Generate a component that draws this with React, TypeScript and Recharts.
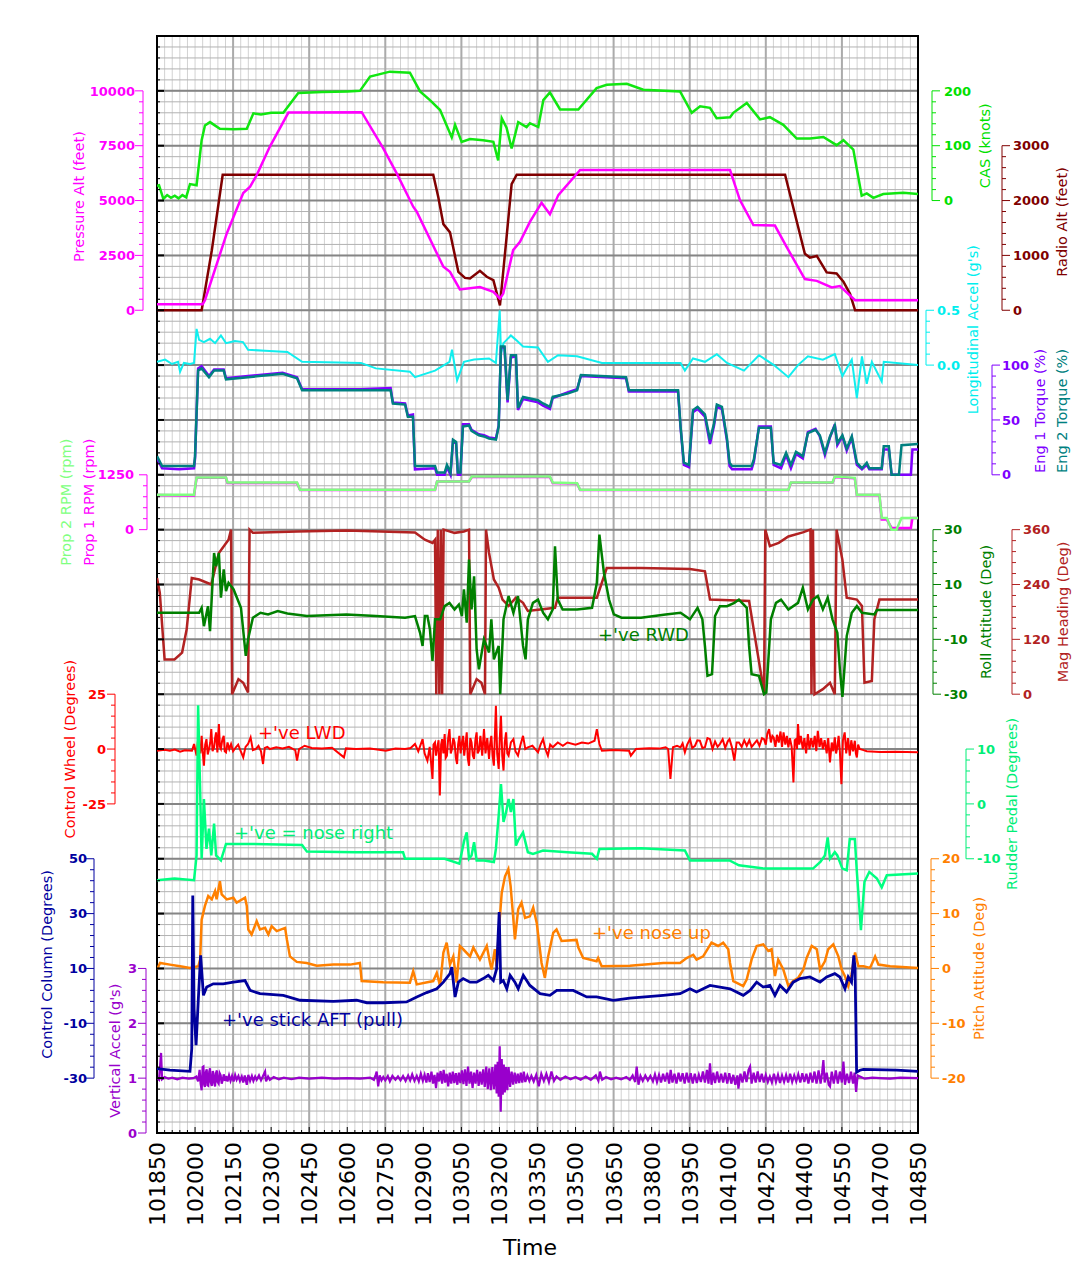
import React from 'react';
import { ComposedChart, Line, XAxis, YAxis, CartesianGrid, ReferenceArea } from 'recharts';

const W = 1081;
const H = 1268;
const PLOT_LEFT = 157;
const PLOT_RIGHT = 918;
const PLOT_TOP = 36;
const PLOT_BOTTOM = 1133;
const ROWS = 20;
const ROW_PX = (PLOT_BOTTOM - PLOT_TOP) / ROWS;
const X_AXIS_H = 100;
const FONT = '"DejaVu Sans", Verdana, sans-serif';

const T_MIN = 101850;
const T_MAX = 104850;
const timeTicks = [
  101850, 102000, 102150, 102300, 102450, 102600, 102750, 102900, 103050, 103200, 103350,
  103500, 103650, 103800, 103950, 104100, 104250, 104400, 104550, 104700, 104850,
];
// grid helpers (layout only)
const minorTimeTicks = Array.from({ length: 101 }, (_, i) => T_MIN + i * 30);
const gridMinorRows = Array.from({ length: 101 }, (_, i) => i);
const gridMajorRows = Array.from({ length: 21 }, (_, i) => i);

// axis tick labels
const pressureAltTicks = [0, 2500, 5000, 7500, 10000];
const casTicks = [0, 100, 200];
const radioAltTicks = [0, 1000, 2000, 3000];
const lonAccTicks = [0, 0.5];
const torqueTicks = [0, 50, 100];
const propRpmTicks = [0, 1250];
const rollTicks = [-30, -10, 10, 30];
const headingTicks = [0, 120, 240, 360];
const wheelTicks = [-25, 0, 25];
const rudderTicks = [-10, 0, 10];
const columnTicks = [-30, -10, 10, 30, 50];
const pitchTicks = [-20, -10, 0, 10, 20];
const vertAccTicks = [0, 1, 2, 3];

// series: [time, value]
const pressureAlt: [number, number][] = [
  [101850, 270], [102030, 270], [102039, 460], [102125, 3500], [102190, 5340], [102217, 5630],
  [102243, 6160], [102295, 7460], [102368, 9010], [102657, 9030], [102742, 7380], [102795, 6240],
  [102860, 4720], [102874, 4490], [102979, 1980], [103005, 1750], [103044, 950], [103123, 1060],
  [103176, 840], [103202, 530], [103215, 760], [103254, 2740], [103281, 3120], [103320, 4030],
  [103366, 4900], [103399, 4380], [103432, 5250], [103518, 6390], [104109, 6390], [104148, 5020],
  [104201, 3880], [104286, 3860], [104332, 2890], [104404, 1420], [104451, 1340], [104510, 1040],
  [104542, 1100], [104602, 460], [104850, 460],
];

const radioAlt: [number, number][] = [
  [101850, 0], [102026, 0], [102066, 1090], [102109, 2470], [102939, 2470], [102959, 2060],
  [102979, 1570], [103005, 1420], [103038, 700], [103064, 590], [103084, 580], [103123, 720],
  [103150, 610], [103176, 550], [103202, 90], [103228, 1330], [103248, 2300], [103268, 2470],
  [104326, 2470], [104345, 2120], [104404, 1030], [104424, 960], [104451, 990], [104490, 690],
  [104529, 670], [104556, 520], [104582, 300], [104602, 0], [104850, 0],
];

const cas: [number, number][] = [
  [101850, 27], [101858, 28], [101875, 3], [101890, 10], [101905, 5], [101920, 9], [101935, 4],
  [101950, 10], [101965, 6], [101980, 30], [102006, 28], [102026, 110], [102039, 137],
  [102059, 143], [102075, 138], [102098, 131], [102151, 130], [102204, 131], [102230, 159],
  [102260, 157], [102300, 160], [102348, 160], [102407, 196], [102500, 198], [102600, 199],
  [102650, 200], [102690, 226], [102768, 235], [102847, 233], [102887, 199], [102926, 183],
  [102966, 165], [103012, 115], [103025, 138], [103051, 107], [103084, 112], [103136, 110],
  [103176, 107], [103195, 73], [103209, 150], [103228, 133], [103248, 95], [103274, 143],
  [103307, 134], [103320, 141], [103353, 134], [103373, 183], [103399, 197], [103439, 166],
  [103511, 166], [103583, 205], [103623, 211], [103702, 213], [103767, 202], [103912, 199],
  [103958, 160], [103991, 172], [104030, 169], [104056, 150], [104109, 152], [104122, 160],
  [104175, 178], [104227, 148], [104266, 152], [104319, 138], [104372, 113], [104424, 113],
  [104477, 116], [104529, 101], [104556, 110], [104595, 93], [104628, 9], [104648, 13],
  [104674, 5], [104713, 12], [104792, 14], [104850, 12],
];

const lonAccel: [number, number][] = [
  [101850, 0.03], [101882, 0.05], [101909, 0.01], [101933, 0.03], [101941, -0.06], [101956, 0.02],
  [101980, 0.01], [101996, 0.02], [102006, 0.33], [102016, 0.23], [102035, 0.21], [102059, 0.24],
  [102079, 0.2], [102102, 0.27], [102122, 0.2], [102157, 0.22], [102189, 0.21], [102209, 0.14],
  [102276, 0.13], [102364, 0.12], [102422, 0.03], [102654, 0.02], [102713, -0.03], [102847, -0.06],
  [102867, -0.11], [102946, -0.05], [103003, 0.03], [103013, 0.14], [103033, -0.14], [103060, 0.03],
  [103100, 0.05], [103159, 0.06], [103186, 0.02], [103201, 0.5], [103206, 0.1], [103216, 0.2],
  [103245, 0.27], [103265, 0.23], [103293, 0.17], [103352, 0.16], [103391, 0.03], [103431, 0.09],
  [103506, 0.08], [103604, 0.02], [103914, 0.02], [103931, -0.05], [103963, 0.06], [104010, 0.03],
  [104057, 0.1], [104097, 0.02], [104164, -0.05], [104223, 0.09], [104282, 0.0], [104339, -0.11],
  [104377, 0.0], [104416, 0.08], [104475, 0.05], [104522, 0.1], [104552, -0.1], [104589, 0.05],
  [104609, -0.3], [104629, 0.08], [104648, -0.17], [104668, 0.03], [104707, -0.15], [104715, 0.03],
  [104850, 0.0],
];

const eng1Torque: [number, number][] = [
  [101850, 15], [101870, 6], [101937, 5], [101996, 6], [102000, 15], [102012, 97], [102026, 99],
  [102055, 90], [102075, 96], [102113, 96], [102122, 88], [102209, 90], [102345, 93], [102402, 89],
  [102422, 78], [102654, 78], [102771, 79], [102780, 66], [102828, 65], [102839, 54], [102859, 55],
  [102867, 5], [102946, 6], [102954, 0], [102984, 0], [102993, 7], [103007, 0], [103017, 31],
  [103029, 29], [103036, 0], [103046, 0], [103056, 46], [103080, 46], [103090, 41], [103119, 37],
  [103139, 36], [103159, 34], [103186, 33], [103197, 45], [103206, 116], [103220, 116],
  [103232, 66], [103245, 107], [103265, 108], [103273, 59], [103293, 69], [103352, 66],
  [103372, 63], [103399, 60], [103410, 70], [103468, 75], [103506, 78], [103521, 90], [103699, 88],
  [103710, 76], [103904, 76], [103914, 43], [103927, 9], [103947, 7], [103963, 57], [103981, 60],
  [104010, 53], [104030, 28], [104046, 45], [104057, 62], [104077, 60], [104097, 31], [104107, 8],
  [104117, 5], [104194, 5], [104203, 12], [104223, 44], [104270, 44], [104281, 9], [104310, 6],
  [104330, 18], [104349, 6], [104369, 19], [104396, 15], [104416, 39], [104446, 42], [104463, 35],
  [104483, 18], [104503, 34], [104522, 46], [104532, 27], [104552, 35], [104569, 22], [104589, 34],
  [104609, 9], [104629, 5], [104648, 9], [104658, 5], [104707, 5], [104715, 23], [104735, 23],
  [104746, 0], [104822, 0], [104828, 23], [104850, 23],
];

const eng2Torque: [number, number][] = [
  [101850, 17], [101870, 8], [101937, 8], [101996, 8], [102000, 17], [102012, 95], [102026, 97],
  [102055, 89], [102075, 95], [102113, 95], [102122, 87], [102209, 89], [102345, 92], [102402, 88],
  [102422, 77], [102654, 77], [102771, 77], [102780, 65], [102828, 64], [102839, 53], [102859, 53],
  [102867, 8], [102946, 8], [102954, 2], [102984, 2], [102993, 9], [103007, 2], [103017, 32],
  [103029, 30], [103036, 2], [103046, 2], [103056, 44], [103080, 45], [103090, 40], [103119, 36],
  [103139, 35], [103159, 33], [103186, 32], [103197, 44], [103206, 117], [103220, 117],
  [103232, 68], [103245, 109], [103265, 109], [103273, 61], [103293, 71], [103352, 68],
  [103372, 65], [103399, 62], [103410, 71], [103468, 74], [103506, 77], [103521, 91], [103699, 89],
  [103710, 77], [103904, 77], [103914, 44], [103927, 11], [103947, 9], [103963, 59], [103981, 62],
  [104010, 55], [104030, 32], [104046, 47], [104057, 64], [104077, 62], [104097, 33], [104107, 11],
  [104117, 8], [104194, 8], [104203, 14], [104223, 43], [104270, 43], [104281, 11], [104310, 9],
  [104330, 20], [104349, 9], [104369, 21], [104396, 17], [104416, 38], [104446, 41], [104463, 36],
  [104483, 20], [104503, 35], [104522, 45], [104532, 29], [104552, 36], [104569, 24], [104589, 35],
  [104609, 11], [104629, 6], [104648, 11], [104658, 6], [104707, 6], [104715, 26], [104735, 26],
  [104746, 0], [104775, 0], [104785, 27], [104850, 28],
];

const prop1Rpm: [number, number][] = [
  [101850, 790], [101996, 780], [102006, 1180], [102122, 1180], [102128, 1065], [102402, 1065],
  [102414, 905], [102946, 905], [102954, 1095], [103080, 1095], [103091, 1200], [103399, 1200],
  [103410, 1065], [103506, 1050], [103518, 905], [104339, 905], [104349, 1070], [104513, 1070],
  [104522, 1200], [104601, 1170], [104609, 790], [104698, 790], [104707, 230], [104727, 230],
  [104746, 40], [104822, 40], [104828, 265], [104850, 265],
];

const prop2Rpm: [number, number][] = [
  [101850, 795], [101996, 795], [102006, 1190], [102122, 1190], [102128, 1075], [102402, 1075],
  [102414, 910], [102946, 910], [102954, 1100], [103080, 1100], [103091, 1210], [103399, 1210],
  [103410, 1075], [103506, 1060], [103518, 910], [104339, 910], [104349, 1075], [104513, 1075],
  [104522, 1210], [104601, 1180], [104609, 795], [104698, 795], [104707, 265], [104727, 265],
  [104746, 0], [104765, 0], [104785, 265], [104850, 265],
];

const roll: [number, number][] = [
  [101850, -0.3], [102016, -0.3], [102026, 1.5], [102035, -5.2], [102051, 2.1], [102059, -7],
  [102075, 21.5], [102083, 16.7], [102094, 21.5], [102102, 5.2], [102113, 15.5], [102122, 7.6],
  [102132, 10.6], [102152, 8.2], [102181, 1.5], [102200, -16], [102209, -10], [102228, -2.1],
  [102258, -0.3], [102288, -0.9], [102326, 0.3], [102364, -0.6], [102441, -1.5], [102597, -0.9],
  [102713, -1.5], [102828, -2.1], [102867, -1.5], [102887, -7.6], [102897, -12.4], [102906, -1.5],
  [102916, -1.5], [102926, -6.4], [102936, -17.9], [102946, -2.7], [102966, -2.7], [102984, 2.1],
  [103003, 3.3], [103023, 0.9], [103040, 2.7], [103052, -1.5], [103060, 8.2], [103071, -3.9],
  [103080, 19.1], [103090, 0.9], [103100, 13], [103110, -13.6], [103119, -20.9], [103139, -10],
  [103159, -14.8], [103168, -2.7], [103178, -17.3], [103197, -12.4], [103203, -30], [103216, -2.7],
  [103236, 5.8], [103255, -0.3], [103273, 5.8], [103293, -12.4], [103303, -17.3], [103312, -2.7],
  [103332, 3.3], [103352, 4.5], [103372, -0.3], [103391, -2.7], [103410, 0.9], [103419, 23.9],
  [103430, 4.5], [103449, 0.9], [103506, 0.9], [103565, 1.5], [103584, 10.6], [103594, 28.2],
  [103612, 14.2], [103632, 4.5], [103651, -0.9], [103681, -2.1], [103758, -2.1], [103855, -0.9],
  [103914, -0.3], [103951, -2.7], [103981, 1.5], [104000, -2.7], [104010, -12.4], [104020, -23.3],
  [104038, -22.7], [104050, -1.5], [104069, 2.1], [104097, 2.1], [104126, 3.3], [104144, 4.5],
  [104175, 1.5], [104184, -12.4], [104194, -22.7], [104223, -23.3], [104243, -30], [104252, -29.4],
  [104270, -2.7], [104290, 3.3], [104310, 4.5], [104339, 0.9], [104377, 3.3], [104396, 8.8],
  [104416, 0.9], [104436, 4.5], [104455, 5.8], [104475, 0.9], [104494, 5.2], [104513, -2.7],
  [104532, -7.6], [104542, -20.9], [104552, -31], [104569, -8.8], [104589, -0.3], [104609, 2.1],
  [104629, -0.3], [104678, -0.9], [104688, 0.7], [104850, 0.7],
];

const heading: [number, number][] = [
  [101850, 254], [101861, 222], [101880, 76], [101919, 76], [101949, 91], [101967, 142],
  [101987, 254], [102016, 251], [102064, 240], [102094, 309], [102132, 338], [102142, 360],
  [102146, 0], [102171, 33], [102190, 25], [102209, 4], [102215, 360], [102228, 353],
  [102402, 356], [102597, 358], [102867, 354], [102906, 338], [102936, 331], [102946, 338],
  [102951, 0], [102957, 360], [102963, 0], [102969, 360], [102974, 0], [102980, 360],
  [103023, 353], [103060, 356], [103080, 360], [103085, 0], [103110, 33], [103129, 25],
  [103143, 0], [103147, 360], [103159, 309], [103178, 251], [103197, 233], [103212, 207],
  [103236, 193], [103265, 211], [103293, 200], [103312, 182], [103352, 185], [103419, 189],
  [103430, 211], [103584, 211], [103623, 276], [103758, 276], [103951, 274], [104010, 269],
  [104030, 207], [104184, 204], [104243, 4], [104248, 360], [104266, 324], [104301, 331],
  [104339, 345], [104396, 354], [104426, 360], [104430, 0], [104436, 360], [104442, 0],
  [104475, 11], [104503, 25], [104522, 0], [104529, 360], [104552, 294], [104569, 211],
  [104609, 207], [104629, 193], [104639, 25], [104668, 29], [104678, 164], [104698, 207],
  [104850, 207],
];

const controlWheel: [number, number][] = [
  [101850, -0.8], [101880, -0.3], [101901, -0.8], [101920, -0.2], [101941, -1.2], [101960, -0.6],
  [101988, -0.8], [101996, 2.3], [102006, -3], [102011, 3.5], [102016, 1.5], [102021, -2],
  [102026, 6], [102030, -1], [102035, -7.6], [102040, 2], [102045, 4.5], [102050, -2.5],
  [102055, 0], [102060, 3], [102064, 9.1], [102069, -1], [102075, 0.8], [102079, 5], [102083, 7.6],
  [102088, -1.5], [102094, 11.4], [102098, 1], [102102, 0], [102107, 4], [102113, 6], [102117, -1],
  [102122, -1.5], [102128, 3], [102135, 0], [102142, 2.3], [102150, -1], [102161, 0.8], [102170, 2],
  [102180, -1], [102190, -3.8], [102199, 1], [102209, 2.3], [102219, 5.3], [102228, -0.5],
  [102239, 0], [102250, 1.5], [102260, -1], [102268, -6.8], [102275, 0.5], [102285, 1], [102295, 0],
  [102320, 0.8], [102345, 0.3], [102370, 1], [102395, -0.5], [102402, -5.3], [102410, 0],
  [102432, 1.5], [102460, 0.5], [102500, 0.3], [102540, 0.6], [102587, -3.8], [102595, 0.3],
  [102634, 0], [102690, 0.3], [102752, -0.8], [102790, 0.2], [102828, 0], [102850, 0.5],
  [102867, 2.3], [102880, -1], [102897, 4.5], [102905, -2], [102916, -5.3], [102925, 1],
  [102936, -13.6], [102940, 2], [102946, 3], [102950, -3], [102955, 0.8], [102960, 4],
  [102965, -21.2], [102970, 2], [102974, 4.5], [102979, -2], [102984, 6.8], [102988, -4],
  [102993, -3], [102998, 5], [103003, 9.1], [103008, -2], [103013, 0], [103018, 5], [103023, 3],
  [103028, -4], [103033, -6.8], [103037, 2], [103042, 6], [103047, -2], [103052, 3], [103057, 6],
  [103061, -3], [103066, 2], [103071, 7.6], [103075, -4], [103080, -7.6], [103085, 5], [103090, 3],
  [103095, -3], [103100, -4.5], [103105, 4], [103110, 7.6], [103114, -2], [103119, -0.8],
  [103125, 6], [103132, -3], [103139, 9.1], [103145, -2], [103152, 5], [103159, -4.5], [103163, 2],
  [103168, 6], [103173, -3], [103178, -7.6], [103182, 6], [103186, 19.7], [103191, -2],
  [103197, -9.1], [103201, 4], [103206, 15.2], [103211, -3], [103216, -9.8], [103221, 3],
  [103226, 7.6], [103231, -2], [103236, -3], [103245, 3], [103255, 4.5], [103263, -1], [103273, -3],
  [103283, 2], [103293, 6], [103302, 0], [103312, 0.8], [103330, 1.5], [103352, -1.5], [103362, 2],
  [103372, 4.5], [103381, 0], [103391, -3], [103400, 2], [103410, 0.8], [103430, 3], [103450, 1.5],
  [103468, 3], [103500, 2], [103525, 3], [103550, 2.5], [103575, 3.8], [103584, 9.1], [103594, 2.3],
  [103604, -0.8], [103650, -0.4], [103711, -0.8], [103718, -3], [103738, 0], [103790, 0.4],
  [103830, 0.2], [103855, 0.8], [103865, 0], [103874, -13.6], [103884, 0.8], [103900, 1.5],
  [103914, 0.8], [103922, 2.5], [103931, -1.5], [103940, 2], [103951, 4.5], [103960, 0.5],
  [103971, 1.5], [103980, 4], [103990, 3.8], [104000, 0.5], [104010, 0.8], [104020, 5],
  [104030, 4.5], [104040, 0], [104050, 3.5], [104060, 1], [104069, 2.3], [104080, 4.5],
  [104090, 0.5], [104100, 3.5], [104107, 4.5], [104116, 1], [104126, -5.3], [104135, 3],
  [104144, 3], [104155, 1], [104165, 4], [104175, 1.5], [104185, 4], [104194, 1], [104203, 2.3],
  [104215, 4], [104225, 1.5], [104235, 5], [104243, 4.5], [104250, 2], [104256, 7], [104263, 9.1],
  [104270, 3], [104276, 6], [104281, 5.3], [104288, 1], [104294, 6.5], [104301, 3], [104308, 8],
  [104314, 1], [104320, 7.6], [104327, 2], [104333, 6], [104339, 0.8], [104345, 5], [104352, 1],
  [104359, -15.2], [104364, 4], [104369, 4.5], [104373, 0], [104377, 11.4], [104382, 2],
  [104388, 6], [104396, 0], [104402, 5], [104409, -2], [104416, 6.8], [104422, 0], [104429, 5],
  [104436, 0.8], [104443, 6], [104449, -1], [104455, 8.3], [104462, 1], [104468, 5], [104475, 0],
  [104482, 4], [104490, -2], [104496, 5], [104503, -6.1], [104510, 3], [104516, -1], [104522, 5.3],
  [104527, -2], [104532, 0.8], [104537, 6], [104542, -1], [104548, -16], [104554, 4],
  [104561, 7.6], [104567, -2], [104574, 5], [104581, -3], [104587, 4], [104594, -1],
  [104601, 3.8], [104605, -2], [104609, -3.8], [104614, 2], [104620, 0], [104635, -0.5],
  [104648, -1], [104700, -1.3], [104760, -1.2], [104850, -1.5],
];

const rudderPedal: [number, number][] = [
  [101850, -13.9], [101919, -13.6], [101996, -13.9], [102006, -9.4], [102012, 18], [102020, 2.7],
  [102026, -10], [102035, 0.9], [102045, -8.2], [102055, -4.5], [102064, -9.4], [102075, -3.6],
  [102083, -9.4], [102102, -10.3], [102122, -7.3], [102209, -7.3], [102422, -7.5], [102441, -8.7],
  [102634, -8.8], [102820, -8.8], [102828, -10], [102984, -10], [103042, -10.9], [103061, -6.7],
  [103071, -5.2], [103080, -10], [103090, -9.4], [103100, -7], [103110, -10.3], [103139, -10.3],
  [103178, -10.6], [103186, -8.2], [103197, -2.1], [103206, 3.6], [103216, -3.3], [103226, -1.5],
  [103236, 0.9], [103245, -1.5], [103255, 0.9], [103265, -7.6], [103273, -6.7], [103293, -5.2],
  [103312, -8.8], [103332, -9.1], [103372, -8.5], [103468, -8.8], [103565, -9.1], [103584, -10],
  [103594, -8.2], [103758, -8.1], [103931, -8.5], [103951, -10.3], [104107, -10.3],
  [104144, -11.2], [104243, -11.8], [104436, -11.8], [104465, -10.6], [104483, -9.4],
  [104494, -6.1], [104503, -10], [104522, -8.8], [104532, -9.4], [104552, -11.8], [104569, -12.1],
  [104581, -6.4], [104601, -6.4], [104609, -12.4], [104625, -23], [104639, -14.2], [104658, -12.4],
  [104688, -13.6], [104707, -15.2], [104727, -13], [104850, -12.7],
];

const controlColumn: [number, number][] = [
  [101850, -26.5], [101901, -27.1], [101980, -27.5], [101987, -19.3], [101991, 36.6],
  [101996, -4.7], [102004, -18], [102013, -1], [102022, 14.8], [102033, 0.2], [102046, 3.2],
  [102072, 4.4], [102111, 4.4], [102151, 5], [102197, 5.6], [102217, 2], [102256, 0.8],
  [102348, 0.2], [102414, -1.6], [102545, -2], [102637, -1.6], [102677, -2.5], [102742, -2.5],
  [102834, -2.2], [102874, -0.4], [102913, 1.2], [102953, 2.6], [102979, 5], [103005, 8.1],
  [103012, 10.5], [103025, -0.4], [103038, 5], [103057, 6.3], [103084, 5], [103110, 5],
  [103136, 6.3], [103156, 7.5], [103176, 5.6], [103189, 9.9], [103199, 30.6], [103205, 5],
  [103215, 5.6], [103229, 2.6], [103242, 7.5], [103261, 5], [103274, 2.6], [103294, 7.5],
  [103320, 3.8], [103360, 0.8], [103399, 0.2], [103426, 2], [103491, 2], [103544, -0.4],
  [103583, -0.4], [103649, -1.6], [103714, -0.8], [103846, 0.2], [103912, 0.8], [103951, 2.6],
  [103977, 1.4], [104030, 3.8], [104109, 2.6], [104161, 0.2], [104188, 2], [104214, 5],
  [104240, 3.2], [104266, 3.8], [104286, 0.2], [104306, 3.8], [104332, 1.4], [104358, 5],
  [104385, 6.3], [104424, 6.9], [104464, 5], [104490, 6.9], [104522, 8.1], [104542, 6.9],
  [104562, 2.6], [104575, 6.9], [104588, 5], [104597, 14.8], [104602, 9.9], [104608, -27.8],
  [104621, -27.1], [104635, -26.8], [104766, -27.1], [104850, -27.5],
];

const pitch: [number, number][] = [
  [101850, -0.2], [101862, 1], [101901, 0.7], [101941, 0.4], [101980, 0.1], [102013, 0.4],
  [102020, 1.6], [102026, 8.9], [102039, 11.4], [102052, 13.2], [102066, 12.6], [102079, 14.1],
  [102085, 12.6], [102098, 15.9], [102105, 13.5], [102125, 12.6], [102151, 12.9], [102164, 12],
  [102197, 12.9], [102204, 11.4], [102210, 7.1], [102223, 6.2], [102243, 8.6], [102256, 7.1],
  [102276, 7.4], [102289, 6.2], [102302, 7.7], [102322, 6.8], [102355, 7.4], [102362, 5.3],
  [102374, 2.2], [102401, 1.2], [102440, 1], [102480, 0.5], [102545, 0.7], [102611, 0.7],
  [102650, 1], [102657, -2.3], [102742, -2.5], [102847, -2.6], [102860, -0.5], [102874, -2.9],
  [102939, -2.3], [102953, -0.8], [102966, -3.2], [102979, 2.9], [102992, 4.7], [103005, 0.7],
  [103018, 2.2], [103031, -2.6], [103044, 4.1], [103057, 3.5], [103084, 2.2], [103097, 3.8],
  [103123, 1.6], [103150, 4.1], [103163, 1], [103169, -0.2], [103182, 3.5], [103189, 0.4],
  [103199, 7.7], [103209, 13.8], [103222, 16.8], [103235, 18.1], [103244, 15], [103254, 9.5],
  [103261, 5.3], [103274, 10.8], [103287, 12], [103301, 9.2], [103320, 9.5], [103333, 11.1],
  [103347, 8.3], [103366, 1], [103379, -1.7], [103392, 2.2], [103412, 6.5], [103425, 7.1],
  [103445, 5], [103504, 5.2], [103511, 3.8], [103530, 1.9], [103583, 1.3], [103589, 1.9],
  [103603, 0.4], [103714, 0.5], [103846, 1], [103912, 1], [103938, 1.9], [103964, 2.5],
  [103977, 1.6], [104003, 2.2], [104036, 4.7], [104062, 4.1], [104082, 4.7], [104102, 3.5],
  [104109, 1], [104122, -2.3], [104161, -3.2], [104175, -2], [104194, 1.6], [104214, 4.1],
  [104240, 4.4], [104260, 3.2], [104273, 3.5], [104286, -1.4], [104299, 1.6], [104319, -0.2],
  [104339, -3.2], [104358, -2.3], [104378, -1.7], [104398, -0.2], [104411, 1.9], [104431, 4.1],
  [104451, 3.5], [104464, -0.2], [104483, 1.3], [104496, 3.5], [104516, 4.4], [104536, 2.2],
  [104549, -0.2], [104562, -1.4], [104575, -3.2], [104588, -1.1], [104602, 2.9], [104615, 0.4],
  [104635, 0.4], [104661, 0.1], [104681, 2.2], [104694, 0.7], [104740, 0.4], [104850, 0.1],
];

const vertAccel: [number, number][] = [
  [101850, 1.0], [101858, 0.97], [101866, 1.46], [101870, 0.98], [101880, 1.02], [101895, 0.99],
  [101910, 1.01], [101930, 0.98], [101950, 1.01], [101975, 0.99], [101993, 1.0], [102005, 1.03],
  [102012, 0.94], [102018, 1.15], [102022, 0.9], [102026, 0.78], [102030, 1.2], [102033, 1.21],
  [102036, 0.88], [102039, 0.84], [102042, 1.1], [102046, 1.16], [102049, 0.87], [102052, 0.86],
  [102056, 1.12], [102059, 1.18], [102062, 0.92], [102066, 0.86], [102070, 1.13], [102073, 1.08],
  [102076, 0.9], [102079, 0.85], [102083, 1.1], [102086, 1.14], [102089, 0.93], [102093, 0.9],
  [102097, 1.09], [102101, 1.05], [102105, 0.9], [102109, 0.96], [102113, 1.07], [102118, 0.95],
  [102123, 1.04], [102128, 0.94], [102134, 1.05], [102140, 0.95], [102146, 1.04], [102152, 0.94],
  [102158, 1.06], [102164, 0.97], [102171, 1.04], [102177, 0.95], [102184, 1.03], [102190, 0.92],
  [102196, 1.05], [102204, 0.88], [102210, 1.06], [102217, 0.95], [102224, 1.04], [102230, 0.95],
  [102237, 1.03], [102243, 0.97], [102252, 1.05], [102260, 0.96], [102268, 1.04], [102276, 1.12],
  [102280, 0.94], [102288, 1.03], [102295, 0.97], [102310, 1.02], [102330, 0.98], [102350, 1.01],
  [102380, 0.98], [102410, 1.01], [102450, 0.99], [102500, 1.01], [102550, 0.99], [102600, 1.0],
  [102650, 0.99], [102690, 1.01], [102705, 0.97], [102712, 1.06], [102716, 1.12], [102722, 0.85],
  [102728, 1.05], [102735, 0.96], [102742, 1.02], [102750, 0.96], [102760, 1.04], [102768, 0.94],
  [102778, 1.04], [102790, 0.97], [102800, 1.03], [102810, 0.96], [102820, 1.04], [102830, 0.95],
  [102840, 1.05], [102848, 0.96], [102856, 1.07], [102865, 0.95], [102874, 1.04], [102882, 0.94],
  [102890, 1.08], [102898, 0.95], [102905, 1.06], [102912, 0.92], [102918, 1.09], [102925, 0.93],
  [102932, 1.12], [102938, 0.9], [102944, 1.06], [102950, 0.82], [102956, 1.1], [102962, 0.94],
  [102968, 1.13], [102974, 0.9], [102980, 1.15], [102986, 0.92], [102992, 1.08], [102998, 0.85],
  [103004, 1.1], [103010, 0.9], [103016, 1.12], [103022, 0.91], [103028, 1.09], [103034, 0.88],
  [103040, 1.1], [103046, 0.91], [103052, 1.14], [103058, 0.89], [103064, 1.16], [103070, 0.86],
  [103076, 1.21], [103082, 0.9], [103088, 1.12], [103094, 0.82], [103100, 1.1], [103106, 0.9],
  [103112, 1.15], [103118, 0.86], [103124, 1.12], [103130, 0.88], [103136, 1.16], [103142, 0.84],
  [103148, 1.21], [103154, 0.8], [103160, 1.18], [103166, 0.78], [103172, 1.2], [103178, 0.8],
  [103184, 1.25], [103189, 0.72], [103193, 1.3], [103197, 0.66], [103201, 1.58], [103205, 0.39],
  [103209, 1.35], [103213, 0.7], [103217, 1.25], [103221, 0.74], [103226, 1.2], [103231, 0.78],
  [103236, 1.2], [103242, 0.84], [103248, 1.12], [103254, 0.88], [103260, 1.1], [103266, 0.9],
  [103272, 1.08], [103278, 0.91], [103284, 1.1], [103290, 0.92], [103296, 1.12], [103302, 0.93],
  [103310, 1.05], [103318, 0.95], [103326, 1.04], [103335, 0.94], [103345, 1.06], [103355, 0.85],
  [103365, 1.08], [103375, 0.95], [103385, 1.08], [103395, 0.93], [103405, 1.12], [103415, 0.95],
  [103425, 1.03], [103440, 0.97], [103460, 1.03], [103480, 0.98], [103500, 1.02], [103520, 0.97],
  [103540, 1.03], [103560, 0.97], [103580, 1.05], [103590, 0.95], [103596, 1.12], [103605, 0.97],
  [103620, 1.02], [103640, 0.98], [103660, 1.01], [103680, 0.98], [103700, 1.02], [103714, 0.97],
  [103725, 1.05], [103735, 0.93], [103741, 1.21], [103748, 0.88], [103756, 1.04], [103765, 0.95],
  [103775, 1.05], [103785, 0.96], [103795, 1.04], [103805, 0.94], [103813, 1.07], [103821, 0.93],
  [103829, 1.06], [103837, 0.92], [103845, 1.08], [103853, 0.94], [103861, 1.1], [103869, 0.9],
  [103875, 1.15], [103882, 0.92], [103890, 1.08], [103898, 0.9], [103906, 1.1], [103914, 0.94],
  [103922, 1.09], [103930, 0.9], [103938, 1.1], [103946, 0.92], [103954, 1.09], [103962, 0.9],
  [103970, 1.08], [103978, 0.91], [103986, 1.06], [103994, 0.93], [104002, 1.12], [104010, 0.92],
  [104018, 1.15], [104024, 0.9], [104030, 1.27], [104036, 0.88], [104043, 1.1], [104050, 0.91],
  [104058, 1.12], [104066, 0.92], [104074, 1.08], [104082, 0.92], [104090, 1.1], [104098, 0.9],
  [104106, 1.09], [104114, 0.9], [104122, 1.06], [104130, 0.88], [104138, 1.05], [104142, 0.81],
  [104150, 1.08], [104158, 0.92], [104166, 1.12], [104174, 0.93], [104182, 1.15], [104188, 1.21],
  [104194, 0.9], [104202, 1.1], [104210, 0.92], [104218, 1.12], [104226, 0.93], [104234, 1.08],
  [104242, 0.92], [104250, 1.06], [104258, 0.93], [104266, 1.03], [104274, 0.92], [104282, 1.08],
  [104290, 0.93], [104298, 1.06], [104306, 0.91], [104314, 1.05], [104322, 0.93], [104330, 1.06],
  [104338, 0.92], [104346, 1.08], [104354, 0.93], [104362, 1.05], [104370, 0.94], [104378, 1.07],
  [104386, 0.92], [104394, 1.09], [104402, 0.93], [104410, 1.08], [104418, 0.9], [104426, 1.1],
  [104434, 0.92], [104442, 1.12], [104450, 0.9], [104458, 1.14], [104466, 0.9], [104472, 1.1],
  [104477, 1.33], [104482, 0.92], [104490, 1.1], [104498, 0.88], [104503, 0.85], [104510, 1.12],
  [104518, 0.9], [104526, 1.14], [104534, 0.9], [104542, 1.12], [104550, 0.92], [104556, 1.3],
  [104562, 0.88], [104570, 1.08], [104578, 0.91], [104586, 1.12], [104594, 0.9], [104600, 1.1],
  [104606, 0.75], [104612, 1.05], [104621, 1.03], [104640, 0.99], [104670, 1.01], [104700, 1.0],
  [104740, 0.99], [104780, 1.01], [104850, 1.0],
];

const pts = (arr: [number, number][]) => arr.map(([t, v]) => ({ t, v }));

type Title = { text: string; x: number; color: string; dy?: number };
type AxisCfg = {
  id: string;
  side: 'left' | 'right';
  x: number;
  color: string;
  majors: number[];
  rowLo: number;
  rowHi: number;
  gap: number;
  digits?: number;
  titles: Title[];
};

const axes: AxisCfg[] = [
  { id: 'pAlt', side: 'left', x: 143, color: '#ff00ff', majors: pressureAltTicks, rowLo: 15, rowHi: 19, gap: 8,
    titles: [{ text: 'Pressure Alt (feet)', x: 79, color: '#ff00ff', dy: -4 }] },
  { id: 'cas', side: 'right', x: 932, color: '#00e000', majors: casTicks, rowLo: 17, rowHi: 19, gap: 12,
    titles: [{ text: 'CAS (knots)', x: 985, color: '#00e000' }] },
  { id: 'rAlt', side: 'right', x: 1002, color: '#800000', majors: radioAltTicks, rowLo: 15, rowHi: 18, gap: 11,
    titles: [{ text: 'Radio Alt (feet)', x: 1062, color: '#800000', dy: -6 }] },
  { id: 'lonAcc', side: 'right', x: 926, color: '#00eeee', majors: lonAccTicks, rowLo: 14, rowHi: 15, gap: 11, digits: 1,
    titles: [{ text: "Longitudinal Accel (g's)", x: 973, color: '#00eeee', dy: -8 }] },
  { id: 'torque', side: 'right', x: 992, color: '#8000ff', majors: torqueTicks, rowLo: 12, rowHi: 14, gap: 10,
    titles: [
      { text: 'Eng 1 Torque (%)', x: 1040, color: '#8000ff', dy: -9 },
      { text: 'Eng 2 Torque (%)', x: 1062, color: '#008080', dy: -9 },
    ] },
  { id: 'prop', side: 'left', x: 147, color: '#ff00ff', majors: propRpmTicks, rowLo: 11, rowHi: 12, gap: 13,
    titles: [
      { text: 'Prop 2 RPM (rpm)', x: 66, color: '#80ff80' },
      { text: 'Prop 1 RPM (rpm)', x: 89, color: '#ff00ff' },
    ] },
  { id: 'roll', side: 'right', x: 933, color: '#008000', majors: rollTicks, rowLo: 8, rowHi: 11, gap: 11,
    titles: [{ text: 'Roll Attitude (Deg)', x: 986, color: '#008000' }] },
  { id: 'hdg', side: 'right', x: 1012, color: '#b22222', majors: headingTicks, rowLo: 8, rowHi: 11, gap: 11,
    titles: [{ text: 'Mag Heading (Deg)', x: 1063, color: '#b22222' }] },
  { id: 'wheel', side: 'left', x: 115, color: '#ff0000', majors: wheelTicks, rowLo: 6, rowHi: 8, gap: 9,
    titles: [{ text: 'Control Wheel (Degrees)', x: 70, color: '#ff0000' }] },
  { id: 'rudder', side: 'right', x: 966, color: '#00ee77', majors: rudderTicks, rowLo: 5, rowHi: 7, gap: 11,
    titles: [{ text: 'Rudder Pedal (Degrees)', x: 1012, color: '#00ee77' }] },
  { id: 'column', side: 'left', x: 94, color: '#0000a0', majors: columnTicks, rowLo: 1, rowHi: 5, gap: 7,
    titles: [{ text: 'Control Column (Degrees)', x: 47, color: '#0000a0', dy: -4 }] },
  { id: 'pitch', side: 'right', x: 931, color: '#ff8000', majors: pitchTicks, rowLo: 1, rowHi: 5, gap: 11,
    titles: [{ text: 'Pitch Attitude (Deg)', x: 979, color: '#ff8000' }] },
  { id: 'vAcc', side: 'left', x: 146, color: '#9900cc', majors: vertAccTicks, rowLo: 0, rowHi: 3, gap: 9,
    titles: [{ text: "Vertical Accel (g's)", x: 115, color: '#9900cc' }] },
];

// place an axis' labelled range on its band of grid rows
function axisDomain(c: AxisCfg): [number, number] {
  const first = c.majors[0];
  const last = c.majors[c.majors.length - 1];
  const perRow = (last - first) / (c.rowHi - c.rowLo);
  const lo = first - c.rowLo * perRow;
  return [lo, lo + ROWS * perRow];
}

function axisTicks(c: AxisCfg): number[] {
  const out: number[] = [];
  for (let i = 0; i < c.majors.length - 1; i++) {
    const a = c.majors[i];
    const b = c.majors[i + 1];
    for (let k = 0; k < 5; k++) out.push(a + ((b - a) * k) / 5);
  }
  out.push(c.majors[c.majors.length - 1]);
  return out;
}

function renderYTick(props: any, c: AxisCfg) {
  const { y, payload } = props;
  const v = payload.value;
  const isMajor = c.majors.some((m) => Math.abs(m - v) < 1e-9);
  const isFirst = Math.abs(v - c.majors[0]) < 1e-9;
  const dir = c.side === 'left' ? -1 : 1;
  const span = (c.rowHi - c.rowLo) * ROW_PX;
  const label = c.digits ? v.toFixed(c.digits) : String(v);
  return (
    <g>
      <line x1={c.x} x2={c.x + dir * (isMajor ? 8 : 4)} y1={y} y2={y} stroke={c.color} strokeWidth={1} />
      {isMajor && (
        <text
          x={c.x + dir * c.gap}
          y={y}
          dy="0.36em"
          textAnchor={c.side === 'left' ? 'end' : 'start'}
          fill={c.color}
          fontSize={13}
          fontWeight="bold"
          fontFamily={FONT}
        >
          {label}
        </text>
      )}
      {isFirst && <line x1={c.x} x2={c.x} y1={y} y2={y - span} stroke={c.color} strokeWidth={1} />}
      {isFirst &&
        c.titles.map((t) => {
          const cy = y - span / 2 + (t.dy ?? 0);
          return (
            <text
              key={t.text}
              x={t.x}
              y={cy}
              dy="0.36em"
              transform={`rotate(-90 ${t.x} ${cy})`}
              textAnchor="middle"
              fill={t.color}
              fontSize={14.5}
              fontFamily={FONT}
            >
              {t.text}
            </text>
          );
        })}
    </g>
  );
}

function renderTimeTick(props: any) {
  const { x, payload } = props;
  const v = payload.value;
  const major = (v - T_MIN) % 150 === 0;
  const ly = PLOT_BOTTOM + 9;
  return (
    <g>
      <line x1={x} x2={x} y1={PLOT_BOTTOM} y2={PLOT_BOTTOM - (major ? 6 : 3)} stroke="#000" strokeWidth={1} />
      {major && (
        <text
          x={x}
          y={ly}
          dy="0.36em"
          transform={`rotate(-90 ${x} ${ly})`}
          textAnchor="end"
          fontSize={22}
          fontFamily={FONT}
          fill="#000"
        >
          {v}
        </text>
      )}
    </g>
  );
}

function renderFrameTick(props: any) {
  const { y, payload } = props;
  const major = payload.value % 5 === 0;
  return (
    <line x1={PLOT_LEFT} x2={PLOT_LEFT + (major ? 7 : 3)} y1={y} y2={y} stroke="#000" strokeWidth={major ? 2 : 1} />
  );
}

const notes = [
  { text: "+'ve RWD", x: 598, y: 635, color: '#008000' },
  { text: "+'ve LWD", x: 258, y: 733, color: '#ff0000' },
  { text: "+'ve = nose right", x: 234, y: 833, color: '#00ee77' },
  { text: "+'ve nose up", x: 592, y: 933, color: '#ff8000' },
  { text: "+'ve stick AFT (pull)", x: 222, y: 1020, color: '#0000a0' },
];

function series(data: [number, number][], axis: string, color: string, width = 2.5) {
  return (
    <Line
      key={axis + color}
      data={pts(data)}
      dataKey="v"
      xAxisId="t"
      yAxisId={axis}
      type="linear"
      stroke={color}
      strokeWidth={width}
      dot={false}
      activeDot={false}
      isAnimationActive={false}
    />
  );
}

export default function App() {
  return (
    <div style={{ position: 'absolute', left: 0, top: 0, width: W, height: H, background: '#fff' }}>
      <ComposedChart
        width={W}
        height={H}
        margin={{ top: PLOT_TOP, left: PLOT_LEFT, right: W - PLOT_RIGHT, bottom: H - PLOT_BOTTOM - X_AXIS_H }}
      >
        <XAxis
          xAxisId="t"
          dataKey="t"
          type="number"
          domain={[T_MIN, T_MAX]}
          ticks={minorTimeTicks}
          interval={0}
          allowDataOverflow
          height={X_AXIS_H}
          axisLine={false}
          tickLine={false}
          tickSize={0}
          tickMargin={0}
          tick={renderTimeTick}
        />
        <XAxis xAxisId="maj" dataKey="t" type="number" domain={[T_MIN, T_MAX]} ticks={timeTicks} hide allowDataOverflow />
        <YAxis
          yAxisId="gMinor"
          type="number"
          domain={[0, 100]}
          ticks={gridMinorRows}
          interval={0}
          mirror
          width={10}
          allowDataOverflow
          axisLine={false}
          tickLine={false}
          tickSize={0}
          tick={renderFrameTick}
        />
        <YAxis yAxisId="gMajor" type="number" domain={[0, 20]} ticks={gridMajorRows} hide allowDataOverflow />
        {axes.map((c) => (
          <YAxis
            key={c.id}
            yAxisId={c.id}
            orientation={c.side}
            type="number"
            domain={axisDomain(c)}
            ticks={axisTicks(c)}
            interval={0}
            mirror
            width={10}
            allowDataOverflow
            axisLine={false}
            tickLine={false}
            tickSize={0}
            tick={(p: any) => renderYTick(p, c)}
          />
        ))}

        <CartesianGrid xAxisId="t" yAxisId="gMinor" horizontal={false} stroke="#d2d2d2" strokeWidth={1} />
        <CartesianGrid xAxisId="t" yAxisId="gMinor" vertical={false} stroke="#b2b2b2" strokeWidth={1} />
        <CartesianGrid xAxisId="maj" yAxisId="gMajor" horizontal={false} stroke="#ababab" strokeWidth={2} />
        <CartesianGrid xAxisId="maj" yAxisId="gMajor" vertical={false} stroke="#858585" strokeWidth={2} />
        <ReferenceArea
          xAxisId="maj"
          yAxisId="gMajor"
          x1={T_MIN}
          x2={T_MAX}
          y1={0}
          y2={20}
          fill="none"
          fillOpacity={0}
          stroke="#000"
          strokeWidth={2}
          ifOverflow="visible"
        />

        {series(radioAlt, 'rAlt', '#800000')}
        {series(pressureAlt, 'pAlt', '#ff00ff')}
        {series(cas, 'cas', '#11e611')}
        {series(lonAccel, 'lonAcc', '#11eeee', 2)}
        {series(eng1Torque, 'torque', '#8000ff')}
        {series(eng2Torque, 'torque', '#008080')}
        {series(prop1Rpm, 'prop', '#ff00ff')}
        {series(prop2Rpm, 'prop', '#80ff80')}
        {series(heading, 'hdg', '#b22222')}
        {series(roll, 'roll', '#008000')}
        {series(controlWheel, 'wheel', '#ff0000', 2)}
        {series(rudderPedal, 'rudder', '#00ff80')}
        {series(vertAccel, 'vAcc', '#9900cc', 2.2)}
        {series(pitch, 'pitch', '#ff8000')}
        {series(controlColumn, 'column', '#00009c', 2.8)}

        {notes.map((n) => (
          <text key={n.text} x={n.x} y={n.y} dy="0.36em" fill={n.color} fontSize={18} fontFamily={FONT}>
            {n.text}
          </text>
        ))}
        <text x={530} y={1247} dy="0.36em" textAnchor="middle" fontSize={22} fontFamily={FONT} fill="#000">
          Time
        </text>
      </ComposedChart>
    </div>
  );
}
